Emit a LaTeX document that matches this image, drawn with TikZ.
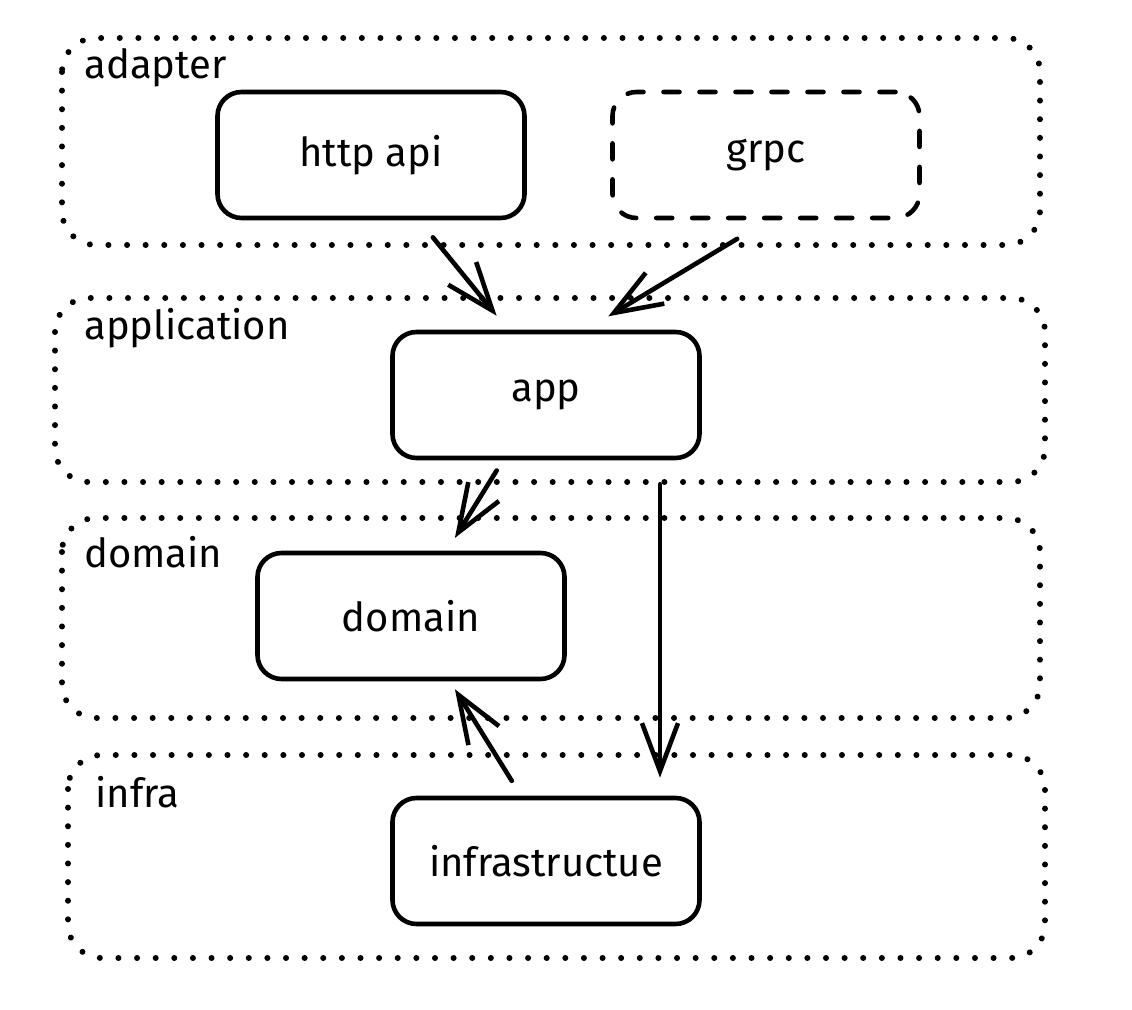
\documentclass[tikz,border=0pt]{standalone}
\usepackage{fontspec}
\setmainfont{Fira Sans}
\usepackage{tikz}
\usetikzlibrary{arrows.meta}

\begin{document}
\begin{tikzpicture}[x=0.5pt,y=-0.5pt,
  layer/.style={line width=3pt,line cap=round,dash pattern=on 0.01pt off 9.3pt,rounded corners=17pt},
  box/.style={draw,line width=2.3pt,rounded corners=12pt,minimum width=153.5pt,minimum height=63pt,font=\fontsize{20}{24}\selectfont},
  optbox/.style={box,line cap=round,dash pattern=on 8pt off 10pt},
  tag/.style={anchor=west,inner sep=0pt,font=\fontsize{20}{24}\selectfont},
  arr/.style={-{Straight Barb[length=24pt,width=18pt]},line width=2.3pt,line cap=round}]
  \useasboundingbox (0,0) rectangle (1132,1010);
  \draw[layer] (62,38) rectangle (1040,245);
  \draw[layer] (55,298) rectangle (1045,482);
  \draw[layer] (62,518) rectangle (1040,718);
  \draw[layer] (68,755) rectangle (1045,958);
  \node[tag] (tadapter) at (84,68) {adapter};
  \node[tag] (tapplication) at (84,328) {application};
  \node[tag] (tdomain) at (84,552) {domain};
  \node[tag] (tinfra) at (95,792) {infra};
  \node[box] (http) at (371,155) {http api};
  \node[optbox] (grpc) at (766,155) {grpc};
  \node[box] (app) at (546,395) {app};
  \node[box] (domain) at (411,616) {domain};
  \node[box] (infra) at (546,861) {infrastructue};
  \draw[arr,shorten <=11pt,shorten >=9pt] ([xshift=24pt]http.south) -- ([xshift=-19pt]app.north);
  \draw[arr,shorten <=18pt,shorten >=13pt] ([xshift=1pt]grpc.south) -- ([xshift=20pt]app.north);
  \draw[arr,shorten <=6pt,shorten >=7.5pt] ([xshift=-21.5pt]app.south) -- ([xshift=18pt]domain.north);
  \draw[arr,shorten <=12pt,shorten >=9pt] ([xshift=57pt]app.south) -- ([xshift=57pt]infra.north);
  \draw[arr,shorten <=8.7pt,shorten >=4.7pt] ([xshift=-12.5pt]infra.north) -- ([xshift=19.5pt]domain.south);
\end{tikzpicture}
\end{document}
